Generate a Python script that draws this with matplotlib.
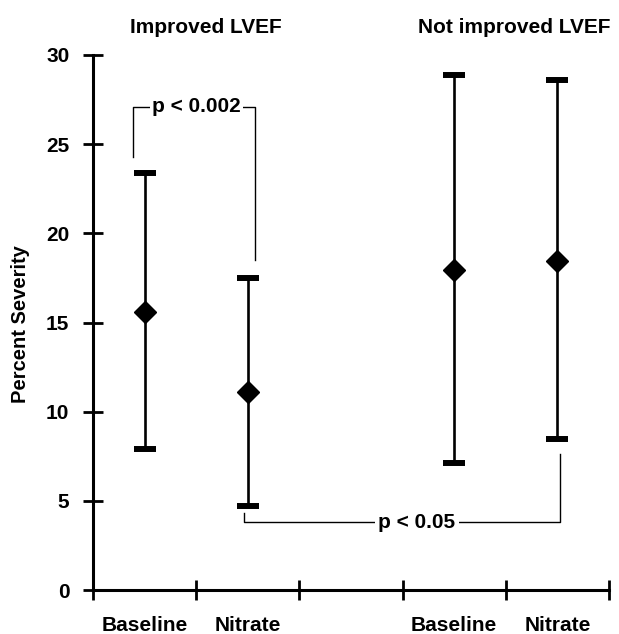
import numpy as np
import matplotlib
matplotlib.use("Agg")
import matplotlib.pyplot as plt

plt.rcParams['font.family'] = ['Liberation Sans', 'DejaVu Sans']
plt.rcParams['font.weight'] = 'bold'

# ---- data ----
categories = ["Baseline", "Nitrate", "Baseline", "Nitrate"]
groups = ["Improved LVEF", "Not improved LVEF"]
means = [15.6, 11.1, 17.95, 18.45]
upper = [23.4, 17.47, 28.9, 28.6]
lower = [7.9, 4.73, 7.13, 8.44]
y_ticks = [0, 5, 10, 15, 20, 25, 30]
p_labels = ["p < 0.002", "p < 0.05"]

slots = np.array([0, 1, 3, 4]) + 0.5
means_a = np.array(means)
yerr = np.vstack([means_a - np.array(lower), np.array(upper) - means_a])

fig = plt.figure(figsize=(6.19, 6.34), dpi=100)
ax = fig.add_axes([93/619, 1-590/634, (609-93)/619, (590-55)/634])

ax.errorbar(slots, means, yerr=yerr, fmt='D', color='black', ms=11,
            elinewidth=1.9, capsize=8, capthick=4.3, zorder=3)

ax.set_xlim(0, 5)
ax.set_ylim(0, 30)
for s in ['top', 'right']:
    ax.spines[s].set_visible(False)
for s in ['left', 'bottom']:
    ax.spines[s].set_linewidth(2.2)

ax.set_yticks(y_ticks)
ax.set_yticklabels([str(t) for t in y_ticks], fontsize=15, fontweight='bold')
ax.set_xticks(range(6))
ax.set_xticklabels([])
ax.set_xticks(slots, categories, minor=True)
ax.tick_params(axis='both', which='major', direction='inout', length=14, width=2)
ax.tick_params(axis='y', which='major', pad=10)
ax.tick_params(axis='x', which='minor', length=0, pad=19, labelsize=15)
for lab in ax.get_xticklabels(minor=True):
    lab.set_fontweight('bold')

# group titles
ax.text(1.09, 1.052, groups[0], transform=ax.get_xaxis_transform(),
        ha='center', va='center', fontsize=15, fontweight='bold')
ax.text(4.08, 1.052, groups[1], transform=ax.get_xaxis_transform(),
        ha='center', va='center', fontsize=15, fontweight='bold')

# y label
fig.text(21/619, 1-324/634, "Percent Severity", rotation=90,
         ha='center', va='center', fontsize=14.5, fontweight='bold')

# bracket p < 0.002
ax.plot([0.39, 0.39, 1.57, 1.57], [24.3, 27.1, 27.1, 18.5], color='black', lw=1.0, clip_on=False)
ax.text(1.0, 27.1, p_labels[0], ha='center', va='center', fontsize=15, fontweight='bold',
        bbox=dict(facecolor='white', edgecolor='none', pad=1.5))

# bracket p < 0.05
ax.plot([1.46, 1.46, 4.53, 4.53], [4.3, 3.8, 3.8, 7.6], color='black', lw=1.0, clip_on=False)
ax.text(3.14, 3.8, p_labels[1], ha='center', va='center', fontsize=15, fontweight='bold',
        bbox=dict(facecolor='white', edgecolor='none', pad=2.5))

fig.savefig("out.png", dpi=100)
